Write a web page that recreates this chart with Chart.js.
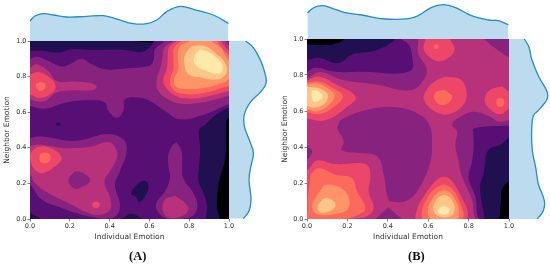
<!DOCTYPE html>
<html>
<head>
<meta charset="utf-8">
<script src="https://cdn.jsdelivr.net/npm/chart.js@4"></script>
<style>
  html, body { margin: 0; padding: 0; background: #fff; overflow: hidden; width: 550px; height: 266px; }
  canvas { position: absolute; filter: blur(0.35px); }
  .panel-label { position: absolute; top: 249px; font: bold 12.5px "Liberation Serif"; color: #111; }
</style>
</head>
<body>
<canvas id="topA" width="199" height="41" style="left:30px;top:0"></canvas>
<canvas id="topB" width="202" height="39" style="left:307px;top:0"></canvas>
<canvas id="rightA" width="45" height="178" style="left:229px;top:41px"></canvas>
<canvas id="rightB" width="41" height="180" style="left:509px;top:39px"></canvas>
<canvas id="mainA" width="276" height="212" style="left:0;top:36px"></canvas>
<canvas id="mainB" width="271" height="214" style="left:278px;top:34px"></canvas>
<div class="panel-label" style="left:129px">(A)</div>
<div class="panel-label" style="left:408px">(B)</div>
<script>
// tick labels
const tickValues = [0, 0.2, 0.4, 0.6, 0.8, 1.0];

// contour level colours (magma)
const levelColors = ['#000004', '#21104f', '#570f74', '#88227f', '#b8327b', '#ec4669', '#fc6a5b', '#fe9468', '#fec587', '#fde9a9'];

// marginal densities, panel A
const topAx = [0, 0.025, 0.067, 0.117, 0.184, 0.285, 0.369, 0.436, 0.519, 0.586, 0.637, 0.687, 0.754, 0.821, 0.921, 0.997];
const topAy = [0.667, 0.833, 0.911, 0.867, 0.8, 0.822, 0.844, 0.733, 0.578, 0.578, 0.7, 0.978, 1.156, 1.056, 0.867, 0.589];
const rightAy = [1.0, 0.963, 0.897, 0.85, 0.803, 0.775, 0.747, 0.71, 0.654, 0.588, 0.522, 0.448, 0.373, 0.298, 0.223, 0.11, 0.045, 0.002];
const rightAx = [0.556, 0.811, 1.033, 1.144, 1.222, 1.244, 1.2, 1.033, 0.7, 0.511, 0.511, 0.667, 0.811, 0.733, 0.667, 0.733, 0.667, 0.478];

// marginal densities, panel B
const topBx = [0.002, 0.031, 0.073, 0.122, 0.188, 0.271, 0.386, 0.502, 0.551, 0.617, 0.675, 0.733, 0.815, 0.898, 0.947, 0.997];
const topBy = [0.867, 1.033, 1.111, 1.033, 0.878, 0.8, 0.667, 0.678, 0.778, 1.056, 1.144, 1.056, 0.778, 0.633, 0.611, 0.478];
const rightBy = [1.0, 0.954, 0.889, 0.796, 0.713, 0.69, 0.665, 0.63, 0.6, 0.574, 0.491, 0.38, 0.287, 0.194, 0.102, 0.046, 0];
const rightBx = [0.511, 0.667, 0.756, 0.978, 1.256, 1.29, 1.27, 1.12, 0.96, 0.811, 0.756, 0.778, 0.889, 0.978, 1.178, 1.144, 0.944];

// contour rings of panel A, [individual, neighbor], painted in this order
const aFull = [[-0.03, -0.03], [1.03, -0.03], [1.03, 1.03], [-0.03, 1.03]];
const aDark = [[-0.03, -0.03], [0.94, -0.03], [0.938, 0.08], [0.945, 0.18], [0.96, 0.25], [0.982, 0.35], [0.985, 0.5], [0.99, 0.56], [1.03, 0.6], [1.03, 0.985], [0.62, 0.992], [-0.03, 0.992]];
const aPurple = [[0, 0.035], [0.04, 0.01], [0.08, -0.02], [0.3, -0.02], [0.45, -0.005], [0.51, 0.03], [0.58, -0.005], [0.75, -0.02], [0.87, -0.01], [0.89, 0.06], [0.885, 0.1], [0.87, 0.15], [0.845, 0.22], [0.85, 0.3], [0.855, 0.4], [0.85, 0.5], [0.88, 0.53], [0.94, 0.59], [1, 0.625], [1.03, 0.63], [1.03, 1.03], [0.62, 1.03], [0.62, 0.995], [0.6, 0.963], [0.56, 0.938], [0.477, 0.95], [0.31, 0.95], [0.21, 0.953], [0.142, 0.934], [0.075, 0.944], [0, 0.944], [-0.03, 0.944], [-0.03, 0.035]];
const aSpot = [[0.13, 0.532], [0.142, 0.542], [0.155, 0.532], [0.142, 0.524]];
const aMidTop = [[0, 0.897], [0.034, 0.912], [0.092, 0.888], [0.16, 0.856], [0.2, 0.869], [0.26, 0.9], [0.31, 0.869], [0.377, 0.841], [0.477, 0.846], [0.595, 0.86], [0.62, 0.888], [0.628, 0.953], [0.67, 0.995], [0.7, 1.03], [1.03, 1.03], [1.03, 0.645], [1, 0.644], [0.88, 0.588], [0.754, 0.56], [0.678, 0.607], [0.603, 0.663], [0.544, 0.682], [0.477, 0.672], [0.469, 0.607], [0.436, 0.569], [0.394, 0.607], [0.377, 0.654], [0.31, 0.667], [0.193, 0.657], [0.075, 0.62], [0, 0.635], [-0.03, 0.635], [-0.03, 0.897]];
const aMidLow = [[0, 0.455], [0.059, 0.464], [0.226, 0.44], [0.393, 0.478], [0.469, 0.446], [0.486, 0.38], [0.452, 0.268], [0.427, 0.193], [0.452, 0.08], [0.435, 0.02], [0.385, 0.002], [0.276, 0.02], [0.159, 0.062], [0.059, 0.109], [0, 0.193], [-0.03, 0.193], [-0.03, 0.455]];
const aStalk = [[0.737, 0.433], [0.762, 0.38], [0.765, 0.305], [0.77, 0.23], [0.82, 0.146], [0.841, 0.08], [0.82, 0.02], [0.745, 0], [0.678, 0.005], [0.637, 0.052], [0.637, 0.095], [0.678, 0.155], [0.703, 0.23], [0.695, 0.305], [0.695, 0.361], [0.712, 0.408]];
const aHole = [[0.532, 0.125], [0.55, 0.095], [0.585, 0.14], [0.595, 0.19], [0.575, 0.215], [0.535, 0.19], [0.508, 0.145]];
const aTail = [[0, 0.85], [0.034, 0.869], [0.092, 0.831], [0.134, 0.775], [0.226, 0.772], [0.318, 0.76], [0.335, 0.743], [0.318, 0.725], [0.226, 0.723], [0.134, 0.71], [0.075, 0.663], [0.025, 0.663], [0, 0.672], [-0.03, 0.672], [-0.03, 0.85]];
const aPeak4 = [[0.72, 1], [0.675, 0.963], [0.665, 0.897], [0.653, 0.841], [0.637, 0.785], [0.645, 0.719], [0.695, 0.672], [0.762, 0.648], [0.863, 0.654], [1, 0.691], [1.03, 0.69], [1.03, 0.97], [1, 0.975], [0.98, 1], [0.97, 1.03], [0.72, 1.03]];
const aPeak5 = [[0.737, 1], [0.698, 0.963], [0.692, 0.897], [0.687, 0.841], [0.67, 0.785], [0.678, 0.747], [0.72, 0.7], [0.779, 0.678], [0.863, 0.682], [1, 0.719], [1.03, 0.72], [1.03, 0.94], [1, 0.945], [0.96, 1], [0.95, 1.03], [0.74, 1.03]];
const aPeak6 = [[0.762, 1], [0.724, 0.963], [0.72, 0.897], [0.72, 0.841], [0.704, 0.785], [0.712, 0.738], [0.754, 0.706], [0.863, 0.706], [1, 0.747], [1.03, 0.75], [1.03, 0.92], [1, 0.92], [0.94, 1], [0.93, 1.03], [0.76, 1.03]];
const aPeak7 = [[0.796, 0.996], [0.754, 0.972], [0.742, 0.916], [0.745, 0.841], [0.724, 0.785], [0.729, 0.747], [0.762, 0.732], [0.863, 0.734], [0.98, 0.77], [1, 0.785], [1.03, 0.79], [1.03, 0.9], [1, 0.89], [0.96, 0.96], [0.91, 1], [0.9, 1.03], [0.8, 1.03]];
const aPeak8 = [[0.812, 0.972], [0.779, 0.925], [0.776, 0.869], [0.796, 0.813], [0.863, 0.794], [0.946, 0.785], [0.988, 0.822], [0.98, 0.878], [0.93, 0.934], [0.879, 0.972]];
const aPeak9 = [[0.854, 0.953], [0.826, 0.916], [0.829, 0.869], [0.888, 0.831], [0.955, 0.818], [0.968, 0.86], [0.946, 0.897], [0.905, 0.934]];
const aLeft5 = [[0, 0.813], [0.042, 0.826], [0.1, 0.794], [0.129, 0.747], [0.109, 0.706], [0.05, 0.68], [0, 0.7], [-0.03, 0.7], [-0.03, 0.81]];
const aLeft6 = [[0.054, 0.77], [0.075, 0.762], [0.079, 0.747], [0.072, 0.73], [0.054, 0.72], [0.036, 0.73], [0.03, 0.747], [0.036, 0.762]];
const aLow4 = [[0, 0.408], [0.042, 0.418], [0.159, 0.399], [0.226, 0.399], [0.31, 0.408], [0.394, 0.433], [0.43, 0.399], [0.436, 0.343], [0.402, 0.268], [0.374, 0.212], [0.402, 0.118], [0.402, 0.052], [0.352, 0.024], [0.293, 0.034], [0.193, 0.09], [0.092, 0.146], [0.025, 0.202], [0, 0.249], [-0.03, 0.25], [-0.03, 0.41]];
const aLowHole = [[0.226, 0.268], [0.268, 0.258], [0.302, 0.215], [0.251, 0.174], [0.218, 0.174], [0.193, 0.221]];
const aLow5 = [[0.034, 0.403], [0.075, 0.408], [0.134, 0.38], [0.159, 0.339], [0.126, 0.296], [0.067, 0.258], [0.025, 0.277], [0.003, 0.324], [0.003, 0.371]];
const aLow6 = [[0.075, 0.373], [0.097, 0.365], [0.103, 0.343], [0.097, 0.322], [0.075, 0.313], [0.053, 0.322], [0.047, 0.343], [0.053, 0.365]];
const aDot = [[0.332, 0.099], [0.347, 0.093], [0.352, 0.08], [0.347, 0.067], [0.332, 0.061], [0.317, 0.067], [0.312, 0.08], [0.317, 0.093]];
const aStalk4 = [[0.729, 0.131], [0.779, 0.09], [0.796, 0.052], [0.762, 0.015], [0.695, 0.009], [0.667, 0.052], [0.678, 0.109]];

const aRings = [aFull, aDark, aPurple, aSpot, aHole, aMidTop, aMidLow, aStalk, aTail, aPeak4, aPeak5, aPeak6, aPeak7, aPeak8, aPeak9, aLeft5, aLeft6, aLow4, aLowHole, aLow5, aLow6, aDot, aStalk4];
const aLevels = [0, 1, 2, 1, 1, 3, 3, 3, 4, 4, 5, 6, 7, 8, 9, 5, 6, 4, 3, 5, 6, 5, 4];

// contour rings of panel B
const bFull = [[-0.03, -0.03], [1.03, -0.03], [1.03, 1.03], [-0.03, 1.03]];
const bDark = [[-0.03, -0.03], [0.952, -0.03], [0.952, 0], [0.96, 0.089], [0.965, 0.163], [0.998, 0.209], [1.03, 0.21], [1.03, 1.03], [0.19, 1.03], [0.182, 0.997], [0.14, 0.973], [0.09, 0.966], [0, 0.97], [-0.03, 0.97]];
const bPurple = [[-0.03, -0.03], [0.878, -0.03], [0.878, 0], [0.875, 0.033], [0.861, 0.116], [0.858, 0.19], [0.875, 0.255], [0.88, 0.301], [0.898, 0.384], [0.957, 0.412], [0.997, 0.449], [1.03, 0.46], [1.03, 1.03], [0.437, 1.03], [0.437, 0.997], [0.338, 0.936], [0.223, 0.914], [0.155, 0.866], [0.058, 0.896], [0.008, 0.886], [-0.03, 0.88]];
const bMid = [[-0.03, -0.03], [0.85, -0.03], [0.85, 0], [0.842, 0.028], [0.833, 0.126], [0.8, 0.227], [0.817, 0.319], [0.825, 0.412], [0.823, 0.486], [0.823, 0.502], [0.898, 0.515], [0.997, 0.52], [1.03, 0.53], [1.03, 1.03], [0.47, 1.03], [0.47, 0.997], [0.495, 0.979], [0.516, 0.933], [0.51, 0.822], [0.272, 0.818], [0.14, 0.818], [0.041, 0.84], [0, 0.818], [-0.03, 0.81]];
const bMain = [[-0.03, -0.03], [0.83, -0.03], [0.825, 0.033], [0.817, 0.107], [0.784, 0.19], [0.759, 0.264], [0.751, 0.319], [0.734, 0.412], [0.743, 0.486], [0.718, 0.526], [0.751, 0.563], [0.825, 0.596], [0.899, 0.572], [0.949, 0.541], [0.998, 0.548], [1.03, 0.55], [1.03, 0.89], [0.997, 0.9], [0.881, 0.995], [0.86, 1.03], [0.55, 1.03], [0.551, 0.995], [0.551, 0.918], [0.592, 0.835], [0.576, 0.77], [0.51, 0.715], [0.337, 0.748], [0.172, 0.774], [0.064, 0.816], [0.007, 0.785], [-0.03, 0.77]];
const bCentre = [[0.149, 0.508], [0.173, 0.554], [0.305, 0.609], [0.454, 0.619], [0.569, 0.572], [0.611, 0.508], [0.619, 0.412], [0.611, 0.319], [0.569, 0.199], [0.503, 0.107], [0.413, 0.098], [0.396, 0.135], [0.38, 0.246], [0.347, 0.347], [0.256, 0.366], [0.173, 0.384], [0.182, 0.43], [0.153, 0.495]];
const bNotch = [[0.401, 0.065], [0.47, 0], [0.5, -0.03], [0.3, -0.03], [0.338, 0]];
const bEdge = [[0, 0.412], [0.025, 0.375], [0, 0.329], [-0.03, 0.33], [-0.03, 0.41]];
const bTop5 = [[0.586, 0.997], [0.578, 0.942], [0.611, 0.896], [0.652, 0.877], [0.701, 0.896], [0.731, 0.942], [0.71, 0.994], [0.7, 1.03], [0.59, 1.03]];
const bTop6 = [[0.64, 0.971], [0.649, 0.967], [0.652, 0.958], [0.649, 0.949], [0.64, 0.945], [0.631, 0.949], [0.628, 0.958], [0.631, 0.967]];
const bMid5 = [[0.685, 0.79], [0.759, 0.776], [0.789, 0.711], [0.776, 0.637], [0.701, 0.582], [0.627, 0.601], [0.578, 0.665], [0.594, 0.72], [0.635, 0.767]];
const bMid6 = [[0.677, 0.72], [0.718, 0.683], [0.701, 0.646], [0.66, 0.634], [0.632, 0.665], [0.635, 0.702]];
const bRight5 = [[0.965, 0.739], [0.998, 0.711], [1.03, 0.72], [1.03, 0.6], [0.998, 0.609], [0.957, 0.582], [0.908, 0.609], [0.88, 0.656], [0.899, 0.711]];
const bRight6 = [[0.957, 0.674], [0.972, 0.666], [0.977, 0.648], [0.972, 0.63], [0.957, 0.622], [0.942, 0.63], [0.937, 0.648], [0.942, 0.666]];
const bLeft5 = [[0, 0.77], [0.056, 0.792], [0.139, 0.752], [0.241, 0.678], [0.188, 0.613], [0.089, 0.548], [0, 0.557], [-0.03, 0.557], [-0.03, 0.77]];
const bLeft6 = [[0, 0.76], [0.066, 0.763], [0.124, 0.73], [0.177, 0.683], [0.14, 0.628], [0.066, 0.584], [0, 0.591], [-0.03, 0.591], [-0.03, 0.76]];
const bLeft7 = [[0, 0.748], [0.058, 0.752], [0.111, 0.72], [0.137, 0.687], [0.116, 0.641], [0.058, 0.6], [0, 0.609], [-0.03, 0.609], [-0.03, 0.748]];
const bLeft8 = [[0, 0.735], [0.066, 0.724], [0.104, 0.687], [0.083, 0.637], [0.033, 0.619], [0, 0.628], [-0.03, 0.628], [-0.03, 0.735]];
const bLeft9 = [[0.023, 0.711], [0.05, 0.715], [0.078, 0.683], [0.058, 0.656], [0.033, 0.652], [0.023, 0.683]];
const bCorner5 = [[0.005, 0.273], [0.05, 0.325], [0.14, 0.305], [0.289, 0.305], [0.314, 0.246], [0.305, 0.153], [0.33, 0.061], [0.297, 0.015], [0.223, -0.004], [0.22, -0.03], [-0.03, -0.03], [-0.03, 0.26]];
const bCorner6 = [[0.017, 0.246], [0.058, 0.283], [0.14, 0.246], [0.223, 0.227], [0.248, 0.153], [0.289, 0.061], [0.248, 0.02], [0.14, -0.004], [0.008, -0.004], [0.003, 0.05], [0.005, 0.12]];
const bCorner7 = [[0.05, 0.135], [0.099, 0.19], [0.19, 0.153], [0.206, 0.061], [0.14, 0.028], [0.05, 0.028], [0.025, 0.07]];
const bCorner8 = [[0.054, 0.079], [0.091, 0.116], [0.132, 0.098], [0.14, 0.07], [0.099, 0.039], [0.058, 0.042]];
const bFoot5 = [[0.65, 0.225], [0.677, 0.235], [0.705, 0.224], [0.735, 0.185], [0.767, 0.116], [0.795, 0.042], [0.784, -0.004], [0.545, -0.004], [0.545, 0.052], [0.578, 0.126], [0.622, 0.195]];
const bFoot6 = [[0.643, 0.178], [0.677, 0.192], [0.709, 0.178], [0.735, 0.145], [0.758, 0.089], [0.776, 0.024], [0.759, -0.004], [0.578, -0.004], [0.569, 0.042], [0.595, 0.116], [0.62, 0.155]];
const bFoot7 = [[0.65, 0.15], [0.677, 0.16], [0.705, 0.15], [0.73, 0.115], [0.751, 0.061], [0.743, 0.002], [0.611, 0.002], [0.599, 0.052], [0.622, 0.115]];
const bFoot8 = [[0.655, 0.125], [0.68, 0.133], [0.703, 0.123], [0.725, 0.09], [0.731, 0.052], [0.71, 0.015], [0.652, 0.015], [0.624, 0.052], [0.635, 0.098]];
const bFoot9 = [[0.677, 0.074], [0.706, 0.052], [0.693, 0.028], [0.66, 0.028], [0.649, 0.052]];

const bRings = [bFull, bDark, bPurple, bMid, bMain, bCentre, bNotch, bEdge, bTop5, bTop6, bMid5, bMid6, bRight5, bRight6, bLeft5, bLeft6, bLeft7, bLeft8, bLeft9, bCorner5, bCorner6, bCorner7, bCorner8, bFoot5, bFoot6, bFoot7, bFoot8, bFoot9];
const bLevels = [0, 1, 2, 3, 4, 3, 3, 3, 5, 6, 5, 6, 5, 6, 5, 6, 7, 8, 9, 5, 6, 7, 8, 5, 6, 7, 8, 9];

const fontFamily = '"DejaVu Sans"';
const labelColor = '#333';
const kdeLine = '#1f8fc6';
const kdeFill = '#bddbef';

function contourChart(id, rings, levels, yWidth, rightPad) {
  const total = rings.length;
  // datasets are drawn from the highest order down, so the first ring goes at the back
  const datasets = rings.map((ring, i) => ({
    data: ring.concat([ring[0]]).map(p => ({ x: p[0], y: p[1] })),
    showLine: true,
    fill: 'shape',
    backgroundColor: levelColors[levels[i]],
    borderWidth: 0,
    pointRadius: 0,
    tension: 0.4,
    order: total - i
  }));

  new Chart(document.getElementById(id), {
    type: 'scatter',
    data: { datasets },
    options: {
      responsive: false,
      animation: false,
      elements: { line: { capBezierPoints: false } },
      layout: { padding: { top: 5, right: rightPad } },
      plugins: { legend: { display: false }, tooltip: { enabled: false } },
      scales: {
        x: axisOptions('Individual Emotion', { top: 0, bottom: 6 }, scale => { scale.height = 29; }),
        y: axisOptions('Neighbor Emotion', { top: 3, bottom: 0 }, scale => { scale.width = yWidth; })
      }
    }
  });
}

function axisOptions(title, titlePadding, afterFit) {
  return {
    type: 'linear',
    min: 0,
    max: 1,
    afterFit,
    afterBuildTicks: scale => { scale.ticks = tickValues.map(value => ({ value })); },
    border: { display: false },
    grid: { drawOnChartArea: false, tickLength: 2.5, color: '#333', lineWidth: 0.6 },
    ticks: {
      color: labelColor,
      padding: 1,
      maxRotation: 0,
      autoSkip: false,
      font: { family: fontFamily, size: 6.5 },
      callback: value => value.toFixed(1)
    },
    title: {
      display: true,
      text: title,
      color: labelColor,
      font: { family: fontFamily, size: 7.5 },
      padding: titlePadding
    }
  };
}

function kdeChart(id, xs, ys, xMax, yMax, horizontal) {
  new Chart(document.getElementById(id), {
    type: 'line',
    data: {
      datasets: [{
        data: xs.map((x, i) => ({ x, y: ys[i] })),
        fill: 'origin',
        backgroundColor: kdeFill,
        borderColor: kdeLine,
        borderWidth: 1.3,
        pointRadius: 0,
        tension: 0.4,
        clip: 2
      }]
    },
    options: {
      responsive: false,
      animation: false,
      indexAxis: horizontal ? 'y' : 'x',
      plugins: { legend: { display: false }, tooltip: { enabled: false } },
      scales: {
        x: { type: 'linear', display: false, min: 0, max: xMax },
        y: { type: 'linear', display: false, min: 0, max: yMax }
      }
    }
  });
}

contourChart('mainA', aRings, aLevels, 30, 47);
contourChart('mainB', bRings, bLevels, 29, 40);
kdeChart('topA', topAx, topAy, 1, 1.367, false);
kdeChart('topB', topBx, topBy, 1, 1.3, false);
kdeChart('rightA', rightAx, rightAy, 1.5, 1, true);
kdeChart('rightB', rightBx, rightBy, 1.367, 1, true);
</script>
</body>
</html>
